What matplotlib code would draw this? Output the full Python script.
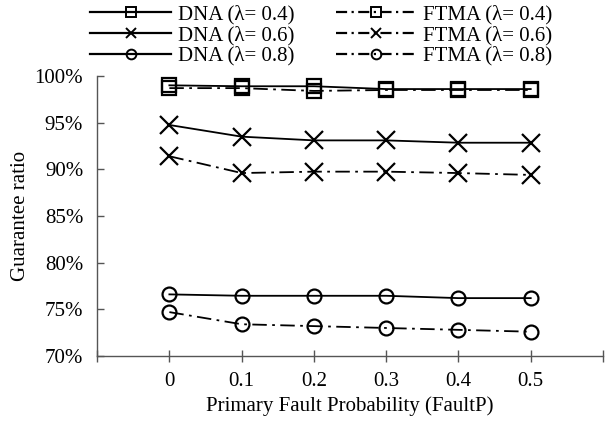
import matplotlib
matplotlib.use("Agg")
import matplotlib.pyplot as plt
from matplotlib.lines import Line2D

plt.rcParams["font.family"] = ["Liberation Serif", "DejaVu Serif"]
plt.rcParams["font.size"] = 15

# data
fault_p = ["0", "0.1", "0.2", "0.3", "0.4", "0.5"]
dna_04 = [99.0, 98.9, 98.9, 98.6, 98.6, 98.6]
dna_06 = [94.75, 93.5, 93.1, 93.1, 92.85, 92.85]
dna_08 = [76.6, 76.45, 76.45, 76.45, 76.2, 76.2]
ftma_04 = [98.7, 98.7, 98.4, 98.5, 98.5, 98.5]
ftma_06 = [91.4, 89.6, 89.75, 89.75, 89.6, 89.4]
ftma_08 = [74.7, 73.4, 73.2, 73.0, 72.8, 72.6]
lambdas = ["0.4", "0.6", "0.8"]

DASH = (8, 3, 1.5, 3)

fig = plt.figure(figsize=(6.07, 4.25), dpi=100)
ax = fig.add_axes([0.16, 0.1624, 0.8334, 0.6588])

x = list(range(len(fault_p)))
markers = ["s", "x", "o"]
sizes = [9.5, 13, 10]
dna = [dna_04, dna_06, dna_08]
ftma = [ftma_04, ftma_06, ftma_08]
for m, ms, d, f in zip(markers, sizes, dna, ftma):
    ax.plot(x, d, color="black", lw=1.3, marker=m, ms=ms, mfc="none", mew=1.6)
    ax.plot(x, f, color="black", lw=1.3, marker=m, ms=ms, mfc="none", mew=1.6,
            dashes=DASH)

ax.set_xlim(-1, 6)
ax.set_ylim(70, 100)
ax.set_xticks(range(-1, 7))
ax.set_xticklabels([""] + fault_p + [""])
ax.set_yticks(range(70, 101, 5))
ax.set_yticklabels([f"{v}%" for v in range(70, 101, 5)])
ax.tick_params(axis="x", direction="inout", length=9, width=1, color="#555555", pad=7)
ax.tick_params(axis="y", direction="in", length=5, width=1, color="#555555", pad=10)
for s in ["top", "right"]:
    ax.spines[s].set_visible(False)
for s in ["left", "bottom"]:
    ax.spines[s].set_color("#555555")
    ax.spines[s].set_linewidth(1)

ax.set_xlabel("Primary Fault Probability (FaultP)", labelpad=4)
ax.set_ylabel("Guarantee ratio", labelpad=3)

handles = []
labels = []
for m, lam in zip(markers, lambdas):
    handles.append(Line2D([], [], color="black", lw=1.6, marker=m, ms=7,
                          mfc="none", mew=1.4))
    labels.append(f"DNA (λ= {lam})")
for m, lam in zip(markers, lambdas):
    handles.append(Line2D([], [], color="black", lw=1.6, marker=m, ms=7,
                          mfc="none", mew=1.4, dashes=(5, 2, 1, 2)))
    labels.append(f"FTMA (λ= {lam})")

fig.legend(handles, labels, ncol=2, loc="upper left", bbox_to_anchor=(90 / 607, 0.988),
           frameon=False, handlelength=3.9, handletextpad=0.3, columnspacing=2.0,
           labelspacing=0.05, borderpad=0, borderaxespad=0, fontsize=15)

fig.savefig("out.png", dpi=100)
